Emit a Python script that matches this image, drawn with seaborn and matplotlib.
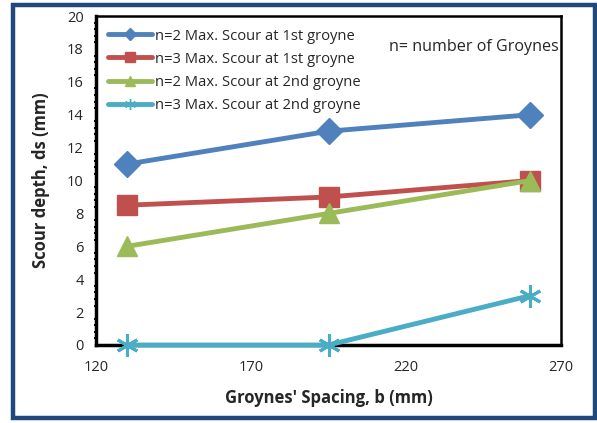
import matplotlib
matplotlib.use("Agg")
import matplotlib.pyplot as plt
import seaborn as sns
import pandas as pd
from matplotlib.ticker import MultipleLocator, FuncFormatter
from matplotlib.lines import Line2D
from matplotlib.patches import Rectangle

spacing = [130, 195, 260]
n2_first = [11, 13, 14]
n3_first = [8.5, 9, 10]
n2_second = [6, 8, 10]
n3_second = [0, 0, 3]
labels = ["n=2 Max. Scour at 1st groyne", "n=3 Max. Scour at 1st groyne",
          "n=2 Max. Scour at 2nd groyne", "n=3 Max. Scour at 2nd groyne"]
series = [n2_first, n3_first, n2_second, n3_second]
colors = ["#4F81BD", "#C0504D", "#9BBB59", "#4BACC6"]
markers = ["D", "s", "^", (6, 2, 0)]
msizes = [13, 14, 14, 16]
mews = [1, 1, 1, 2.2]

sns.set_style("white")
plt.rcParams['font.family'] = ['Open Sans', 'DejaVu Sans']

fig = plt.figure(figsize=(5.97, 4.23), dpi=100)
ax = fig.add_axes([0.161, 0.1844, 0.7787, 0.7776])

for vals, lab, c, m, ms, mew in zip(series, labels, colors, markers, msizes, mews):
    df = pd.DataFrame({"b": spacing, "ds": vals})
    sns.lineplot(data=df, x="b", y="ds", ax=ax, color=c, marker=m, markersize=ms,
                 markeredgecolor=c, markeredgewidth=mew, linewidth=3.5, label=lab,
                 legend=False, clip_on=False, zorder=3)

ax.set_xlim(120, 270)
ax.set_ylim(0, 20)
ax.xaxis.set_major_locator(MultipleLocator(10))
ax.xaxis.set_major_formatter(FuncFormatter(lambda v, p: f"{int(round(v))}" if int(round(v - 120)) % 50 == 0 else ""))
ax.yaxis.set_major_locator(MultipleLocator(2))
ax.yaxis.set_minor_locator(MultipleLocator(0.4))
ax.tick_params(axis="x", which="major", direction="out", length=3, width=2, labelsize=10.5, pad=8, color="black")
ax.tick_params(axis="y", which="major", direction="out", length=5, width=2, labelsize=10.5, pad=4, color="black")
ax.tick_params(axis="y", which="minor", direction="inout", length=3, width=1.5, left=True, color="black")
for side in ["left", "bottom"]:
    ax.spines[side].set_linewidth(2.5)
for side in ["top", "right"]:
    ax.spines[side].set_linewidth(1.8)
for s in ax.spines.values():
    s.set_color("black")
    s.set_zorder(2)

ax.set_xlabel("Groynes' Spacing, b (mm)", fontsize=12, fontweight="bold", labelpad=10)
ax.set_ylabel("Scour depth, ds (mm)", fontsize=12, fontweight="bold", labelpad=12)

handles = [Line2D([0], [0], color=c, lw=3.5, marker=m, markersize=ms * 0.5,
                  markeredgecolor=c) for c, m, ms in zip(colors, markers, msizes)]
ax.legend(handles, labels, loc="upper left", frameon=False, fontsize=10.6,
          handlelength=3.0, handletextpad=0.2, labelspacing=0.55,
          borderaxespad=0.0, bbox_to_anchor=(0.012, 0.98))

ax.text(0.995, 0.905, "n= number of Groynes", transform=ax.transAxes, ha="right",
        va="center", fontsize=11.6)

fig.patches.append(Rectangle((0.0226, 0.013), 0.974, 0.976, transform=fig.transFigure,
                             fill=False, edgecolor="#1F497D", linewidth=3.2, zorder=10))

fig.savefig("out.png", dpi=100)
